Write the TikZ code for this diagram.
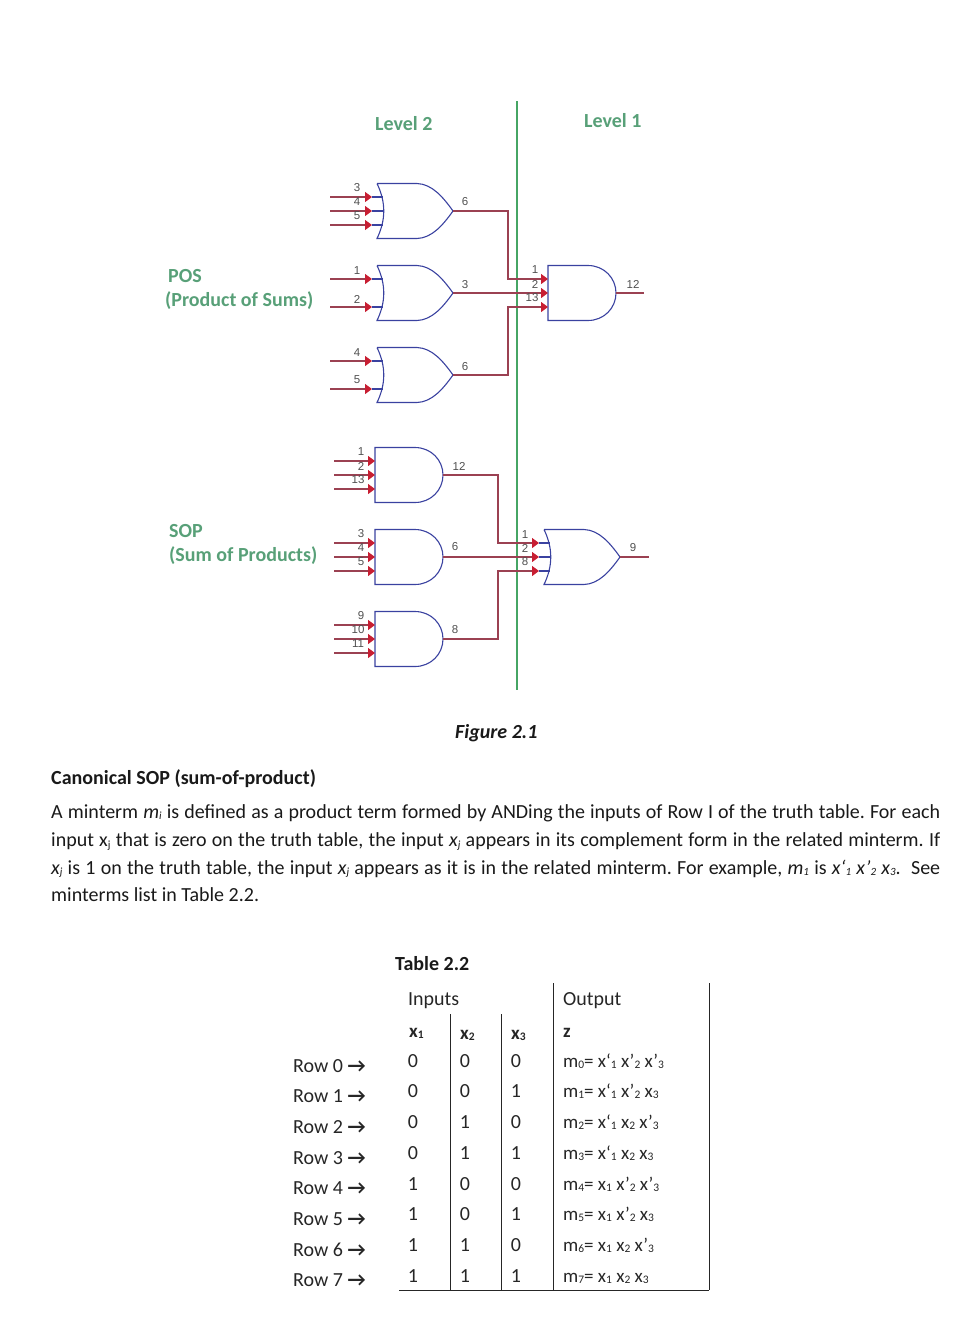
\documentclass[tikz,border=0pt]{standalone}
\usepackage{fontspec}
\setmainfont{Carlito}
\newfontfamily\pinfont{Liberation Sans}
\usetikzlibrary{arrows.meta}
\definecolor{gateblue}{RGB}{58,66,160}
\definecolor{wirered}{RGB}{155,65,82}
\definecolor{tipred}{RGB}{200,30,50}
\definecolor{midgreen}{RGB}{70,165,100}
\definecolor{captiongreen}{RGB}{88,160,120}
\definecolor{pingray}{RGB}{80,80,80}
\frenchspacing
\newcommand{\lw}[1]{\raisebox{-0.2ex}{\fontsize{11}{11}\selectfont #1}}
\newcommand{\tw}[1]{\raisebox{-0.2ex}{\fontsize{11.5}{11}\selectfont #1}}
\newcommand{\fillline}[1]{\makebox[889pt][s]{#1}}
\tikzset{
  x=1pt,y=-1pt,
  gate/.style={draw=gateblue,line width=1.1pt},
  wire/.style={draw=wirered,line width=1.3pt},
  inwire/.style={wire,-{Triangle[length=7pt,width=10pt,fill=tipred,color=tipred]}},
  stub/.style={draw=gateblue,line width=1.1pt},
  pin/.style={font=\pinfont\fontsize{11.5}{11.5}\selectfont,text=pingray,inner sep=0pt},
  caption/.style={font=\fontsize{20}{22}\selectfont\bfseries,text=captiongreen,inner sep=0pt,anchor=base west},
  body/.style={font=\fontsize{20}{22}\selectfont,inner sep=0pt,anchor=base west,text=black!90},
  bodybold/.style={body,font=\fontsize{20}{22}\selectfont\bfseries},
  cell/.style={font=\fontsize{20}{22}\selectfont,inner sep=0pt,text=black!85,anchor=base},
  leftcell/.style={cell,anchor=base west},
  headx/.style={leftcell,font=\fontsize{19}{20}\selectfont\bfseries},
  rule/.style={draw=black!85,line width=1pt},
  orgate/.pic={
    \draw[gate] (0,-27.5) -- (40,-27.5) .. controls (55,-27) and (66,-14) .. (76,0)
      .. controls (66,14) and (55,27) .. (40,27.5) -- (0,27.5)
      .. controls (9,9) and (9,-9) .. (0,-27.5);
    \coordinate (-out) at (76,0);
    \coordinate (-a) at (-5,-14); \coordinate (-b) at (-5,0); \coordinate (-c) at (-5,14);
    \coordinate (-sa) at (6,-14); \coordinate (-sb) at (7,0); \coordinate (-sc) at (6,14);
    \coordinate (-ia) at (-47,-14); \coordinate (-ib) at (-47,0); \coordinate (-ic) at (-47,14);
  },
  andgate/.pic={
    \draw[gate] (0,-27.5) -- (40,-27.5) .. controls (56,-27.5) and (68,-15) .. (68,0)
      .. controls (68,15) and (56,27.5) .. (40,27.5) -- (0,27.5) -- cycle;
    \coordinate (-out) at (68,0);
    \coordinate (-a) at (0,-14); \coordinate (-b) at (0,0); \coordinate (-c) at (0,14);
    \coordinate (-ia) at (-41,-14); \coordinate (-ib) at (-41,0); \coordinate (-ic) at (-41,14);
  }
}
\begin{document}
\begin{tikzpicture}
\useasboundingbox (0,0) rectangle (977,1331);
% divider
\coordinate (divtop) at (517,101);
\coordinate (divbot) at (517,690);
\draw[draw=midgreen,line width=1.2pt] (divtop) -- (divbot);
% gates
\pic (o1) at (377,211) {orgate};
\pic (o2) at (377,293) {orgate};
\pic (o3) at (377,375) {orgate};
\pic (ra) at (548,293) {andgate};
\pic (a1) at (375,475) {andgate};
\pic (a2) at (375,557) {andgate};
\pic (a3) at (375,639) {andgate};
\pic (ro) at (544,557) {orgate};
% input wires
\foreach \g/\p in {o1/a,o1/b,o1/c,o2/a,o2/c,o3/a,o3/c}{
  \draw[stub] (\g-\p) -- (\g-s\p);
  \draw[inwire] (\g-i\p) -- (\g-\p);
}
\foreach \g in {a1,a2,a3}{
  \draw[inwire] (\g-ia) -- (\g-a);
  \draw[inwire] (\g-ib) -- (\g-b);
  \draw[inwire] (\g-ic) -- (\g-c);
}
% bends and ends
\coordinate (b1) at (508,279);
\coordinate (b3) at (508,307);
\coordinate (b4) at (498,543);
\coordinate (b6) at (498,571);
\coordinate (raout) at (644,293);
\coordinate (roout) at (649,557);
\foreach \p in {a,b,c}{\draw[stub] (ro-\p) -- (ro-s\p);}
\draw[inwire] (o1-out) -| (b1) -- (ra-a);
\draw[inwire] (o2-out) -- (ra-b);
\draw[inwire] (o3-out) -| (b3) -- (ra-c);
\draw[wire] (ra-out) -- (raout);
\draw[inwire] (a1-out) -| (b4) -- (ro-a);
\draw[inwire] (a2-out) -- (ro-b);
\draw[inwire] (a3-out) -| (b6) -- (ro-c);
\draw[wire] (ro-out) -- (roout);
% pin numbers
\foreach \x/\y/\t in {357/188/3,357/202/4,357/216/5,465/202/6,
  357/271/1,357/299/2,465/285/3,357/353/4,357/380/5,465/367/6,
  535/270/1,535/284/2,532/298/13,633/284/12,
  361/452/1,361/466/2,358/480/13,459/466/12,
  361/534/3,361/548/4,361/562/5,455/547/6,
  361/616/9,358/630/10,358/644/11,455/630/8,
  525/535/1,525/548/2,525/562/8,633/548/9}{
  \node[pin] (pin-\x-\y) at (\x,\y) {\t};
}
% captions
\node[caption] (lev2) at (375,130) {Level 2};
\node[caption] (lev1) at (584,127) {Level 1};
\node[caption] (pos1) at (168,282) {POS};
\node[caption] (pos2) at (165,306) {(Product of Sums)};
\node[caption] (sop1) at (169,537) {SOP};
\node[caption] (sop2) at (169,561) {(Sum of Products)};
\node[body,font=\fontsize{20}{22}\selectfont\bfseries\itshape] (fig) at (455,738) {Figure 2.1};
% paragraph
\node[bodybold] (head) at (51,784) {Canonical SOP (sum-of-product)};
\node[body] (l1) at (51,818) {\fillline{A minterm \textit{m\lw{i}} is defined as a product term formed by ANDing the inputs of Row I of the truth table. For each}};
\node[body] (l2) at (51,846.5) {\fillline{input x\lw{j} that is zero on the truth table, the input \textit{x\lw{j}} appears in its complement form in the related minterm. If}};
\node[body] (l3) at (51,874) {\fillline{\textit{x\lw{j}} is 1 on the truth table, the input \textit{x\lw{j}} appears as it is in the related minterm. For example, \textit{m\lw{1}} is \textit{x‘\lw{1} x’\lw{2} x\lw{3}}.\ \ See}};
\node[body] (l4) at (51,901) {minterms list in Table 2.2.};
% table
\node[bodybold] (tt) at (395,970) {Table 2.2};
\node[leftcell] (hin) at (408,1005) {Inputs};
\node[leftcell] (hout) at (563,1005) {Output};
\node[headx] (hx1) at (409,1037) {x\tw{1}};
\node[headx] (hx2) at (460,1039) {x\tw{2}};
\node[headx] (hx3) at (511,1039) {x\tw{3}};
\node[headx] (hz) at (563,1037) {z};
\foreach \n/\y/\ry/\a/\b/\c/\m in {
  0/1067/1072/0/0/0/{x‘\tw{1} x’\tw{2} x’\tw{3}},
  1/1097/1102/0/0/1/{x‘\tw{1} x’\tw{2} x\tw{3}},
  2/1128/1133/0/1/0/{x‘\tw{1} x\tw{2} x’\tw{3}},
  3/1159/1164/0/1/1/{x‘\tw{1} x\tw{2} x\tw{3}},
  4/1190/1194/1/0/0/{x\tw{1} x’\tw{2} x’\tw{3}},
  5/1220/1225/1/0/1/{x\tw{1} x’\tw{2} x\tw{3}},
  6/1251/1256/1/1/0/{x\tw{1} x\tw{2} x’\tw{3}},
  7/1282/1286/1/1/1/{x\tw{1} x\tw{2} x\tw{3}}}{
  \node[leftcell] (row\n) at (293,\ry) {Row \n\ \textbf{→}};
  \node[cell] (ca\n) at (413,\y) {\a};
  \node[cell] (cb\n) at (465,\y) {\b};
  \node[cell] (cc\n) at (516,\y) {\c};
  \node[leftcell,font=\fontsize{19}{20}\selectfont] (cm\n) at (563,\y) {m\tw{\n}= \m};
}
\draw[rule] (450.5,1014) -- (450.5,1290);
\draw[rule] (501.5,1014) -- (501.5,1290);
\draw[rule] (553,983) -- (553,1290);
\draw[rule] (709,983) -- (709,1290);
\draw[rule] (399,1290) -- (709,1290);
\end{tikzpicture}
\end{document}
